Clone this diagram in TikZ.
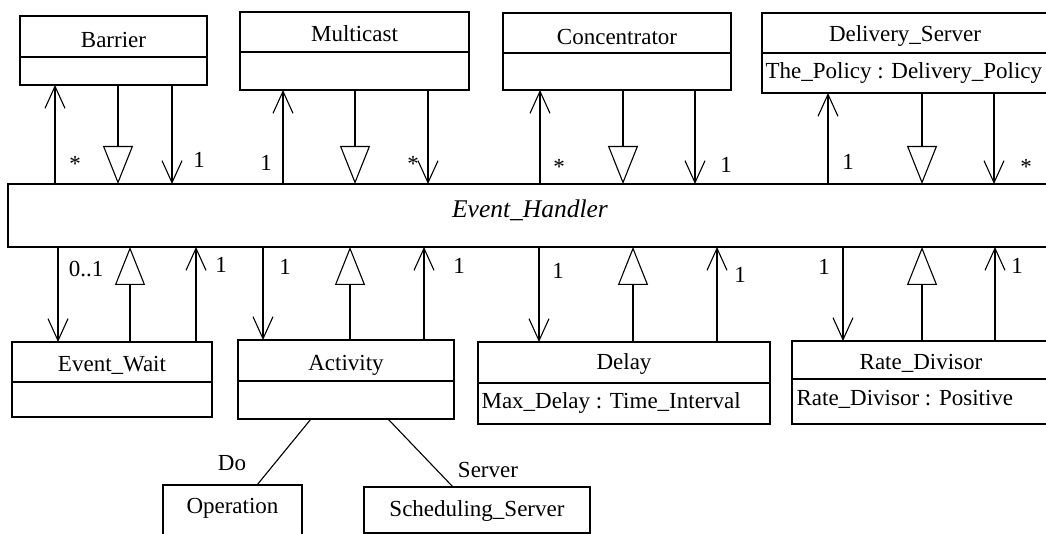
\documentclass[tikz,border=0pt]{standalone}
\usepackage{fontspec}
\setmainfont{Liberation Serif}
\usetikzlibrary{arrows.meta}

% #1 name, #2 x, #3 y (top left), #4 width, #5 height, #6 divider depth, #7 title depth, #8 title
\newcommand\umlclass[8]{%
  \node[box, minimum width=#4pt, minimum height=#5pt] (#1) at (#2,#3) {};
  \draw ([yshift=-#6pt]#1.north west) -- ([yshift=-#6pt]#1.north east);
  \node[txt] (#1-title) at ([yshift=-#7pt]#1.north) {#8};
}
% vertical link at abscissa #4 from border #2 to border #3
\newcommand\vlink[4]{\draw[#1] (#2 -| #4,0) -- (#3 -| #4,0);}

\begin{document}
\begin{tikzpicture}[x=1pt, y=-1pt, line width=1.1pt,
  box/.style={draw, rectangle, inner sep=0pt, outer sep=0pt, anchor=north west},
  txt/.style={inner sep=0pt, font=\fontsize{23}{27}\selectfont},
  attr/.style={txt, anchor=west},
  assoc/.style={-{Straight Barb[length=22pt,width=20pt]}},
  inherit/.style={-{Triangle[open,length=38pt,width=30pt]}}]

\useasboundingbox (0,0) rectangle (1046,534);
\clip (0,0) rectangle (1046,534);

% classes above the handler
\umlclass{barrier}{20}{16}{187}{69}{41}{24}{Barrier}
\umlclass{multicast}{240}{12}{229}{78}{40}{22}{Multicast}
\umlclass{concentrator}{503}{13}{228}{77}{40}{24}{Concentrator}
\umlclass{delivery}{762}{13}{286}{80}{40}{23}{Delivery\_Server}
\node[attr] (delivery-attr) at (765,73) {The\_Policy : Delivery\_Policy};

% the abstract handler
\node[box, minimum width=1044pt, minimum height=63pt] (handler) at (8,184) {};
\node[txt, font=\fontsize{25.5}{29}\selectfont\itshape] (handler-title) at (530,210) {Event\_Handler};

% classes below the handler
\umlclass{eventwait}{12}{342}{200}{75}{40}{23}{Event\_Wait}
\umlclass{activity}{238}{340}{216}{79}{41}{25}{Activity}
\umlclass{delay}{478}{342}{292}{82}{41}{22}{Delay}
\node[attr] (delay-attr) at (481,403) {Max\_Delay : Time\_Interval};
\umlclass{rate}{792}{341}{258}{83}{38}{22}{Rate\_Divisor}
\node[attr] (rate-attr) at (796,399) {Rate\_Divisor : Positive};

% classes used by Activity
\node[box, minimum width=139pt, minimum height=60pt] (operation) at (163,485) {};
\node[txt] (operation-title) at ([yshift=-23pt]operation.north) {Operation};
\node[box, minimum width=226pt, minimum height=46pt] (scheduling) at (364,487) {};
\node[txt] (scheduling-title) at ([yshift=-24pt]scheduling.north) {Scheduling\_Server};

% links to the upper classes
\vlink{assoc}{handler.north}{barrier.south}{55}
\vlink{inherit}{barrier.south}{handler.north}{118}
\vlink{assoc}{barrier.south}{handler.north}{172}
\vlink{assoc}{handler.north}{multicast.south}{283}
\vlink{inherit}{multicast.south}{handler.north}{355}
\vlink{assoc}{multicast.south}{handler.north}{428}
\vlink{assoc}{handler.north}{concentrator.south}{540}
\vlink{inherit}{concentrator.south}{handler.north}{623}
\vlink{assoc}{concentrator.south}{handler.north}{695}
\vlink{assoc}{handler.north}{delivery.south}{828}
\vlink{inherit}{delivery.south}{handler.north}{922}
\vlink{assoc}{delivery.south}{handler.north}{994}

% links to the lower classes
\vlink{assoc}{handler.south}{eventwait.north}{58}
\vlink{inherit}{eventwait.north}{handler.south}{130}
\vlink{assoc}{eventwait.north}{handler.south}{196}
\vlink{assoc}{handler.south}{activity.north}{263}
\vlink{inherit}{activity.north}{handler.south}{350}
\vlink{assoc}{activity.north}{handler.south}{424}
\vlink{assoc}{handler.south}{delay.north}{539}
\vlink{inherit}{delay.north}{handler.south}{633}
\vlink{assoc}{delay.north}{handler.south}{717}
\vlink{assoc}{handler.south}{rate.north}{843}
\vlink{inherit}{rate.north}{handler.south}{922}
\vlink{assoc}{rate.north}{handler.south}{995}

% Activity's associations
\draw (activity.south -| 311,0) -- (operation.north -| 257,0);
\draw (activity.south -| 388,0) -- (scheduling.north -| 453,0);

% multiplicities and role names
\node[txt] (m1) at (75,164) {*};
\node[txt] (m2) at (199,160) {1};
\node[txt] (m3) at (266,163) {1};
\node[txt] (m4) at (413,164) {*};
\node[txt] (m5) at (559,167) {*};
\node[txt] (m6) at (726,165) {1};
\node[txt] (m7) at (848,162) {1};
\node[txt] (m8) at (1026,167) {*};
\node[txt] (m9) at (86,269) {0..1};
\node[txt] (m10) at (221,265) {1};
\node[txt] (m11) at (285,267) {1};
\node[txt] (m12) at (459,266) {1};
\node[txt] (m13) at (558,271) {1};
\node[txt] (m14) at (740,275) {1};
\node[txt] (m15) at (824,267) {1};
\node[txt] (m16) at (1017,266) {1};
\node[txt] (role-do) at (232,463) {Do};
\node[txt] (role-server) at (488,470) {Server};
\end{tikzpicture}
\end{document}
